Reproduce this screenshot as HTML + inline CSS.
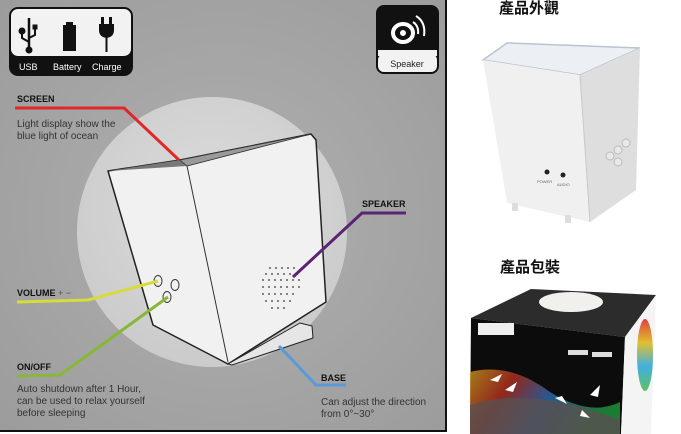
<!DOCTYPE html>
<html><head><meta charset="utf-8"><style>
html,body{margin:0;padding:0;background:#fff;width:681px;height:434px;overflow:hidden}
svg{display:block}
text{font-family:"Liberation Sans","Noto Sans CJK TC",sans-serif}
</style></head><body>
<svg width="681" height="434" viewBox="0 0 681 434" xmlns="http://www.w3.org/2000/svg">
<defs>
<radialGradient id="bg" cx="0.5" cy="0.5" r="0.7"><stop offset="0" stop-color="#b0b0b0"/><stop offset="1" stop-color="#9c9c9c"/></radialGradient>
<radialGradient id="circ" cx="0.5" cy="0.4" r="0.6"><stop offset="0" stop-color="#dcdcdc"/><stop offset="1" stop-color="#cbcbcb"/></radialGradient>
<linearGradient id="rainbow" x1="0" y1="0" x2="1" y2="0.3"><stop offset="0" stop-color="#d8a020"/><stop offset="0.3" stop-color="#c03020"/><stop offset="0.6" stop-color="#3070c0"/><stop offset="1" stop-color="#20a040"/></linearGradient>
<linearGradient id="rb2" x1="0" y1="0" x2="0" y2="1"><stop offset="0" stop-color="#e04040"/><stop offset="0.33" stop-color="#e0c030"/><stop offset="0.66" stop-color="#40b0e0"/><stop offset="1" stop-color="#60c060"/></linearGradient>
</defs>
<rect x="0" y="0" width="447" height="432" fill="url(#bg)"/>
<line x1="446" y1="0" x2="446" y2="432" stroke="#111" stroke-width="2"/>
<line x1="0" y1="431" x2="447" y2="431" stroke="#111" stroke-width="2"/>
<circle cx="212" cy="232" r="135" fill="url(#circ)"/>

<rect x="9" y="7" width="124" height="69" rx="9" fill="#111"/>
<rect x="11" y="9" width="120" height="47" rx="7" fill="#f2f2f2"/>
<g fill="#111" stroke="#111">
<line x1="29" y1="18" x2="29" y2="49" stroke-width="2.5"/><circle cx="29" cy="50" r="3"/><circle cx="22" cy="31" r="3"/><rect x="33" y="25" width="4" height="4"/>
<polyline points="22,31 22,38 29,42" fill="none" stroke-width="2"/><polyline points="35,29 35,35 29,38" fill="none" stroke-width="2"/>
<rect x="63" y="25" width="13" height="26" stroke="none"/><rect x="66" y="22" width="7" height="3" stroke="none"/>
<rect x="101" y="17" width="3" height="7" stroke="none"/><rect x="109" y="17" width="3" height="7" stroke="none"/>
<path d="M99 24 h15 v6 q0 7 -7.5 8 q-7.5 -1 -7.5 -8z" stroke="none"/><rect x="105.5" y="37" width="2" height="15" stroke="none"/>
</g>
<text x="19" y="70" font-size="9" fill="#fff">USB</text>
<text x="53" y="70" font-size="9" fill="#fff">Battery</text>
<text x="92" y="70" font-size="9" fill="#fff">Charge</text>

<rect x="376" y="5" width="63" height="69" rx="8" fill="#111"/>
<rect x="378" y="54" width="59" height="18" rx="6" fill="#f2f2f2"/>
<rect x="378" y="50" width="59" height="6" fill="#f2f2f2"/>
<g fill="none" stroke="#fff"><ellipse cx="403" cy="33" rx="10" ry="9" stroke-width="4"/><circle cx="403" cy="33" r="2.5" fill="#fff"/><path d="M413 22 q6 4 5 12" stroke-width="2"/><path d="M416 16 q10 6 8 20" stroke-width="2"/></g>
<text x="407" y="67" font-size="9" fill="#222" text-anchor="middle">Speaker</text>

<polygon points="108,171 180,160 311,134 316,140 326,302 228,364 153,325" fill="#f1f1f1" stroke="#222" stroke-width="1.5" stroke-linejoin="round"/>
<polygon points="108,171 180,160 187,166" fill="#777"/>
<polygon points="180,160 311,134 187,166" fill="#9a9a9a" stroke="#333" stroke-width="0.8"/>
<line x1="187" y1="166" x2="228" y2="362" stroke="#333" stroke-width="1"/>
<polygon points="300,323 312,326 313,338 232,365 228,364" fill="#e6e6e6" stroke="#222" stroke-width="1"/>
<g fill="none" stroke="#333" stroke-width="1"><ellipse cx="158" cy="281" rx="4" ry="5.5"/><ellipse cx="175" cy="285" rx="4" ry="5.5"/><ellipse cx="167" cy="297" rx="4" ry="5.5"/></g>
<g fill="#333">
<circle cx="270" cy="268" r=".9"/><circle cx="276" cy="268" r=".9"/><circle cx="282" cy="268" r=".9"/><circle cx="288" cy="268" r=".9"/><circle cx="294" cy="268" r=".9"/>
<circle cx="266" cy="274" r=".9"/><circle cx="272" cy="274" r=".9"/><circle cx="278" cy="274" r=".9"/><circle cx="284" cy="274" r=".9"/><circle cx="290" cy="274" r=".9"/><circle cx="296" cy="274" r=".9"/>
<circle cx="263" cy="280" r=".9"/><circle cx="269" cy="280" r=".9"/><circle cx="275" cy="280" r=".9"/><circle cx="281" cy="280" r=".9"/><circle cx="287" cy="280" r=".9"/><circle cx="293" cy="280" r=".9"/><circle cx="299" cy="280" r=".9"/>
<circle cx="263" cy="287" r=".9"/><circle cx="269" cy="287" r=".9"/><circle cx="275" cy="287" r=".9"/><circle cx="281" cy="287" r=".9"/><circle cx="287" cy="287" r=".9"/><circle cx="293" cy="287" r=".9"/><circle cx="299" cy="287" r=".9"/>
<circle cx="263" cy="294" r=".9"/><circle cx="269" cy="294" r=".9"/><circle cx="275" cy="294" r=".9"/><circle cx="281" cy="294" r=".9"/><circle cx="287" cy="294" r=".9"/><circle cx="293" cy="294" r=".9"/>
<circle cx="266" cy="301" r=".9"/><circle cx="272" cy="301" r=".9"/><circle cx="278" cy="301" r=".9"/><circle cx="284" cy="301" r=".9"/><circle cx="290" cy="301" r=".9"/>
<circle cx="272" cy="308" r=".9"/><circle cx="278" cy="308" r=".9"/><circle cx="284" cy="308" r=".9"/>
</g>

<polyline points="15,108 124,108 179,160" fill="none" stroke="#e0282a" stroke-width="3"/>
<polyline points="17,302 88,300 158,281" fill="none" stroke="#d6dc3a" stroke-width="3"/>
<polyline points="17,376 60,375 168,297" fill="none" stroke="#86b836" stroke-width="3"/>
<polyline points="406,213 362,213 293,277" fill="none" stroke="#5a2472" stroke-width="3"/>
<polyline points="279,346 316,385 346,385" fill="none" stroke="#5a9ad8" stroke-width="3"/>

<g font-weight="bold" font-size="9" fill="#111">
<text x="17" y="102">SCREEN</text>
<text x="17" y="296">VOLUME <tspan font-weight="normal" fill="#555">+ −</tspan></text>
<text x="17" y="370">ON/OFF</text>
<text x="362" y="207">SPEAKER</text>
<text x="321" y="381">BASE</text>
</g>
<g font-size="10" fill="#333">
<text x="17" y="127">Light display show the</text>
<text x="17" y="139">blue light of ocean</text>
<text x="17" y="392">Auto shutdown after 1 Hour,</text>
<text x="17" y="404">can be used to relax yourself</text>
<text x="17" y="416">before sleeping</text>
<text x="321" y="405">Can adjust the direction</text>
<text x="321" y="417">from 0°~30°</text>
</g>

<text x="529" y="13" font-size="15" font-weight="bold" fill="#111" text-anchor="middle">產品外觀</text>
<polygon points="483,60 507,43 640,48 580,75" fill="#ecf0f4" stroke="#b8c4d0" stroke-width="1.5"/>
<polygon points="483,60 580,75 590,222 507,203" fill="#f0f0f0"/>
<polygon points="580,75 640,48 636,190 590,222" fill="#dedede"/>
<line x1="580" y1="75" x2="590" y2="222" stroke="#c8c8c8"/>
<circle cx="547" cy="172" r="2.5" fill="#222"/><circle cx="563" cy="175" r="2.5" fill="#222"/>
<text x="537" y="183" font-size="4" fill="#666">POWER</text><text x="557" y="186" font-size="4" fill="#666">AUDIO</text>
<g fill="#e8e8e8" stroke="#bbb"><circle cx="610" cy="156" r="4"/><circle cx="618" cy="150" r="4"/><circle cx="626" cy="143" r="4"/><circle cx="618" cy="162" r="4"/></g>
<rect x="512" y="203" width="6" height="8" fill="#ddd"/><rect x="565" y="215" width="6" height="8" fill="#ddd"/>

<text x="530" y="272" font-size="15" font-weight="bold" fill="#111" text-anchor="middle">產品包裝</text>
<polygon points="471,318 531,289 656,295 625,337" fill="#2c2c2c"/>
<ellipse cx="571" cy="302" rx="32" ry="10" fill="#f2f0ec"/>
<polygon points="471,318 625,337 621,434 470,434" fill="#0c0c0c"/>
<path d="M470 372 q40 -10 80 20 q40 25 70 10 v32 h-150z" fill="url(#rainbow)" opacity="0.75"/>
<path d="M470 405 q60 -20 150 15 v14 h-150z" fill="#5a5050" opacity="0.8"/>
<polygon points="625,337 656,295 651,434 621,434" fill="#f4f4f4"/>
<ellipse cx="645" cy="355" rx="8" ry="36" fill="url(#rb2)"/>
<rect x="478" y="323" width="36" height="12" fill="#eee"/>
<g fill="#fff"><path d="M490 380 l12 -6 l-4 8z"/><path d="M505 390 l12 -8 l-4 10z"/><path d="M555 398 l12 6 l-5 -8z"/><path d="M590 395 l10 -10 l-2 12z"/><path d="M582 410 l8 8 l-10 -2z"/></g>
<rect x="568" y="350" width="20" height="5" fill="#ddd"/><rect x="592" y="352" width="20" height="5" fill="#ddd"/>
</svg>
</body></html>
